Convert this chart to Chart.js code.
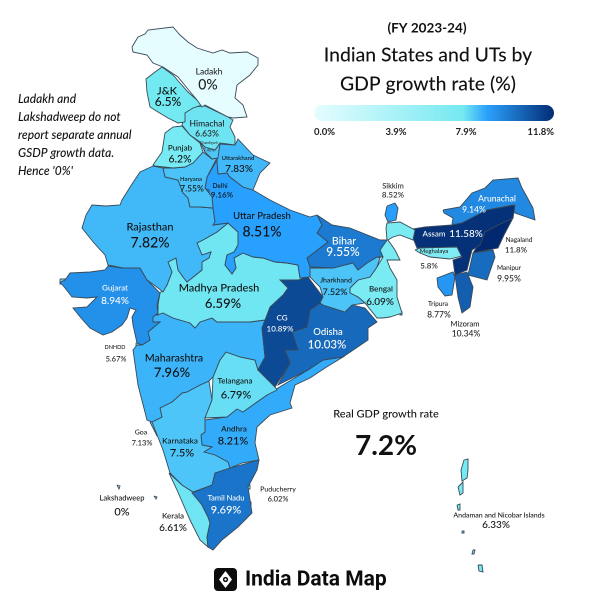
<!DOCTYPE html>
<html>
<head>
<meta charset="utf-8">
<title>Indian States and UTs by GDP growth rate</title>
<script src="https://cdn.jsdelivr.net/npm/chart.js@4"></script>
<style>
  html, body { margin: 0; padding: 0; background: #fff; }
  canvas { display: block; }
</style>
</head>
<body>
<canvas id="chart" width="600" height="600"></canvas>
<script>
// growth rate per state / UT
const regions = ["Ladakh","J&K","Himachal","Punjab","Chandigarh","Haryana","Delhi","Uttarakhand","Uttar Pradesh","Rajasthan","Gujarat","Madhya Pradesh","Bihar","Jharkhand","Bengal","Sikkim","Assam","Meghalaya","Nagaland","Manipur","Mizoram","Tripura","Arunachal","CG","Odisha","Maharashtra","Telangana","Karnataka","Goa","Andhra","Tamil Nadu","Kerala","Puducherry","DNHDD","Lakshadweep","Andaman and Nicobar Islands"];
const growth = [0,6.5,6.63,6.2,7.46,7.55,9.16,7.83,8.51,7.82,8.94,6.59,9.55,7.52,6.09,8.52,11.58,5.8,11.8,9.95,10.34,8.77,9.14,10.89,10.03,7.96,6.79,7.5,7.13,8.21,9.69,6.61,6.02,5.67,0,6.33];
const legendTicks = ["0.0%","3.9%","7.9%","11.8%"];
const nationalGrowth = "7.2%";

// map outlines (x, y in a 600 x 600 frame)
const outlines = {
  "Ladakh": [[[132,47],[138,37],[145,34],[148,30],[173,27],[180,35],[188,42],[197,48],[213,53],[222,50],[230,53],[247,52],[258,58],[258,65],[250,75],[237,85],[235,98],[243,105],[247,117],[233,118],[228,117],[205,105],[202,107],[197,100],[187,88],[178,77],[163,67],[153,63],[147,55],[133,52]]],
  "J&K": [[[162,67],[173,75],[180,83],[188,92],[197,100],[202,105],[193,108],[185,113],[185,122],[178,123],[168,118],[158,112],[150,107],[147,92],[146,79],[155,72]]],
  "Himachal": [[[185,113],[193,107],[202,106],[205,106],[228,117],[233,120],[230,127],[235,137],[235,145],[220,143],[215,150],[205,147],[200,142],[190,135],[182,125]]],
  "Punjab": [[[182,126],[190,135],[200,143],[203,152],[193,163],[185,167],[173,168],[155,166],[153,165],[162,152],[165,133],[173,127]]],
  "Chandigarh": [[[200,142],[205,147],[215,150],[220,143],[218,158],[212,159],[205,152]]],
  "Haryana": [[[163,168],[173,168],[185,167],[193,163],[203,152],[212,159],[217,158],[207,177],[205,188],[212,197],[213,208],[200,207],[190,207],[188,198],[183,193],[178,180],[165,177]]],
  "Delhi": [[[203,188],[209,190],[209,195],[204,195]]],
  "Uttarakhand": [[[217,160],[220,144],[235,145],[238,139],[253,155],[270,163],[260,173],[253,190],[243,187],[230,177],[227,173],[218,174]]],
  "Uttar Pradesh": [[[217,160],[207,177],[205,188],[212,197],[213,208],[215,222],[213,225],[228,223],[238,232],[238,245],[234,252],[227,255],[225,265],[232,274],[236,268],[234,258],[243,253],[253,257],[263,258],[275,262],[287,263],[298,265],[300,278],[310,277],[310,267],[307,258],[320,248],[328,242],[317,233],[322,225],[317,215],[310,217],[290,210],[270,200],[253,190],[243,187],[230,177],[227,173],[218,174]]],
  "Rajasthan": [[[153,166],[163,168],[165,177],[178,180],[183,193],[188,198],[190,207],[200,207],[213,208],[215,222],[213,225],[228,223],[217,232],[203,240],[197,243],[202,255],[211,252],[209,258],[202,262],[202,270],[187,282],[183,277],[178,270],[176,258],[168,262],[172,272],[167,285],[163,292],[158,288],[147,280],[140,268],[123,268],[108,265],[105,255],[94,243],[82,228],[86,215],[92,205],[106,206],[120,205],[122,200],[132,184],[140,172]]],
  "Gujarat": [[[60,282],[65,280],[70,273],[90,272],[105,270],[108,266],[123,268],[140,268],[147,280],[160,293],[157,305],[158,313],[153,317],[153,322],[160,322],[148,332],[150,340],[142,345],[137,343],[133,325],[132,317],[136,310],[130,308],[127,318],[122,325],[112,332],[103,335],[90,328],[81,318],[73,308],[87,307],[97,297],[87,298],[72,297],[65,288]]],
  "Madhya Pradesh": [[[197,243],[203,240],[217,232],[228,223],[238,232],[238,245],[234,252],[227,255],[225,265],[232,274],[236,268],[234,258],[243,253],[253,257],[263,258],[275,262],[287,263],[298,265],[300,278],[308,277],[298,280],[280,280],[288,288],[283,295],[270,307],[265,320],[250,322],[217,322],[212,318],[200,322],[195,328],[190,323],[173,318],[163,313],[157,315],[158,305],[160,293],[167,285],[172,272],[168,262],[176,258],[178,270],[183,277],[187,282],[202,270],[202,262],[209,258],[211,252],[202,255]]],
  "Bihar": [[[317,215],[332,225],[350,228],[380,240],[387,240],[380,250],[383,257],[377,257],[367,263],[358,270],[353,263],[333,268],[310,267],[307,258],[320,248],[328,242],[317,233],[322,225]]],
  "Jharkhand": [[[310,268],[333,268],[353,263],[358,270],[367,263],[377,257],[380,258],[377,267],[370,277],[358,280],[350,288],[350,293],[358,297],[365,303],[352,305],[345,312],[323,305],[320,303],[323,297],[320,287],[310,277]]],
  "Bengal": [[[387,240],[386,228],[387,223],[400,222],[415,230],[413,240],[400,235],[393,237],[388,240],[395,250],[400,260],[387,260],[390,268],[397,280],[397,297],[402,313],[390,317],[383,318],[377,318],[365,303],[358,297],[350,293],[350,288],[358,280],[370,277],[377,267],[383,257],[380,250]],[[400,312],[402,312],[402,315],[400,315]]],
  "Sikkim": [[[387,206],[395,203],[398,208],[396,220],[388,222],[385,215]]],
  "Assam": [[[413,229],[425,227],[452,225],[462,223],[487,210],[515,205],[513,218],[498,225],[485,232],[480,245],[472,250],[467,270],[455,275],[453,260],[462,257],[457,247],[417,248],[413,238]]],
  "Meghalaya": [[[415,250],[420,248],[457,246],[462,256],[450,259],[430,257],[420,253]]],
  "Nagaland": [[[485,232],[498,225],[513,218],[504,235],[498,248],[473,253],[478,245]]],
  "Manipur": [[[493,250],[495,257],[487,280],[468,275],[473,253]]],
  "Mizoram": [[[455,275],[467,272],[473,287],[470,307],[462,313],[458,297]]],
  "Tripura": [[[437,278],[453,272],[455,277],[452,295],[445,296],[438,287]]],
  "Arunachal": [[[443,210],[460,207],[472,193],[485,188],[493,180],[518,178],[522,188],[527,197],[533,208],[535,220],[515,213],[513,205],[487,210],[462,223],[452,225],[453,218],[444,213]]],
  "CG": [[[308,277],[323,297],[320,303],[310,310],[307,327],[292,332],[298,350],[285,350],[290,363],[275,387],[258,370],[265,357],[262,328],[270,307],[283,295],[288,288],[280,280],[298,280]]],
  "Odisha": [[[320,303],[323,305],[345,312],[352,305],[365,308],[377,322],[368,328],[368,340],[343,357],[323,360],[308,370],[278,385],[290,363],[285,350],[298,350],[292,332],[307,327],[310,310]]],
  "Maharashtra": [[[137,345],[142,345],[150,340],[148,332],[160,322],[153,322],[153,317],[158,313],[163,313],[173,318],[190,323],[195,328],[200,322],[212,318],[217,322],[250,322],[265,320],[262,328],[265,357],[258,370],[255,360],[240,357],[226,352],[220,360],[213,377],[209,381],[200,385],[187,392],[182,393],[172,402],[160,408],[162,417],[152,422],[147,420],[138,385],[133,350]]],
  "Telangana": [[[226,352],[240,357],[255,360],[258,370],[275,387],[277,390],[267,395],[257,402],[243,412],[237,409],[227,417],[205,418],[212,400],[213,377],[220,360]]],
  "Karnataka": [[[152,422],[162,417],[160,408],[172,402],[182,393],[187,392],[200,385],[209,381],[212,400],[205,418],[205,432],[201,435],[202,445],[212,447],[204,452],[215,455],[228,462],[230,468],[215,473],[212,485],[193,492],[182,485],[170,473],[163,450]]],
  "Goa": [[[150,422],[160,420],[160,435],[157,436]]],
  "Andhra": [[[205,420],[227,417],[237,408],[243,412],[257,402],[267,395],[278,388],[308,370],[323,360],[343,357],[325,368],[310,378],[295,385],[290,403],[292,408],[270,415],[257,427],[255,443],[259,460],[242,463],[230,468],[228,462],[215,455],[203,452],[212,447],[202,445],[201,435],[205,432]]],
  "Tamil Nadu": [[[215,473],[230,468],[259,460],[257,470],[248,487],[252,513],[238,527],[222,540],[213,550],[208,547],[207,537],[210,523],[208,517],[202,505],[192,493],[212,485]]],
  "Kerala": [[[169,473],[182,485],[193,492],[202,505],[208,517],[210,523],[207,537],[208,547],[200,540],[190,520],[177,490]]],
  "Puducherry": [[[246,485],[250,485],[250,489],[246,489]],[[249,502],[251,502],[251,505],[249,505]]],
  "DNHDD": [[[136,343],[140,343],[140,347],[136,347]],[[60,279],[65,279],[65,284],[60,284]]],
  "Lakshadweep": [[[117,485],[120,486],[119,489]],[[154,496],[157,497],[156,499]]],
  "Andaman and Nicobar Islands": [[[464,460],[468,459],[468,470],[467,478],[462,481],[461,470]],[[458,487],[463,482],[463,493],[460,495]],[[457,505],[460,504],[460,510],[458,510]],[[462,531],[464,531],[464,533],[462,533]],[[473,550],[475,550],[474,554],[472,554]],[[478,565],[482,565],[483,572],[479,571]]]
};

// where each region's name and value sit: x, y, size of the name, then x, y, size of the value, text colour
const layout = {
  "Ladakh": [209,72,8.5,208,85,14,"#222"], "J&K": [167,91,11,168,102,12,"#111"], "Himachal": [207,124,8.5,207,134,8.5,"#222"],
  "Chandigarh": [209,143,3.5,209,150,4,"#333"], "Punjab": [180,148,8,180,159,10.5,"#111"], "Uttarakhand": [238,158,6,239,169,10,"#111"],
  "Haryana": [191,179,6,192,189,8.5,"#111"], "Delhi": [220,186,6.5,222,195,8,"#111"], "Uttar Pradesh": [262,216,9.5,262,232,14,"#111"],
  "Rajasthan": [150,227,11,150,243,14,"#111"], "Gujarat": [115,288,8,115,301,10,"#fff"], "Madhya Pradesh": [219,288,11,223,304,13,"#111"],
  "Bihar": [344,241,10.5,343,252,12,"#fff"], "Jharkhand": [336,280,7,335,292,9,"#111"], "Bengal": [381,289,8,380,302,10,"#111"],
  "CG": [282,318,8,280,329,8,"#fff"], "Odisha": [328,332,9.5,327,345,11.5,"#fff"], "Maharashtra": [174,358,10.5,172,373,13,"#111"],
  "Telangana": [235,381,8,236,395,11,"#111"], "Karnataka": [180,441,8,182,453,11,"#111"], "Andhra": [234,429,8,233,441,11,"#111"],
  "Tamil Nadu": [226,498,7.5,226,510,11,"#fff"], "Goa": [141,432,7,142,443,7.5,"#222"], "DNHDD": [115,347,5.5,116,359,7.5,"#222"],
  "Lakshadweep": [122,498,7.5,122,512,11,"#111"], "Kerala": [173,516,8,173,528,10,"#111"], "Puducherry": [278,489,7,278,499,7.5,"#222"],
  "Sikkim": [393,186,7.5,393,195,8,"#222"], "Arunachal": [497,199,8.5,474,210,8.5,"#fff"], "Assam": [434,234,8,466,234,10,"#fff"],
  "Nagaland": [519,240,6.5,516,250,8,"#222"], "Meghalaya": [434,251,6,429,266,8,"#222"], "Manipur": [509,268,6.5,509,279,8.5,"#222"],
  "Tripura": [438,304,6.5,439,315,8.5,"#222"], "Mizoram": [465,324,7.5,466,334,8.5,"#222"], "Andaman and Nicobar Islands": [499,515,7,496,525,10,"#111"]
};

const noteLines = ["Ladakh and","Lakshadweep do not","report separate annual","GSDP growth data.","Hence '0%'"];
const FONT = 'Lato, sans-serif';

// same ramp as the colour bar, by value
const ramp = [[0,[230,253,255]],[6.5,[115,233,242]],[8.5,[40,160,253]],[11.8,[2,41,111]]];
function colorFor(v) {
  for (let i = 1; i < ramp.length; i++) {
    if (v <= ramp[i][0]) {
      const t = (v - ramp[i-1][0]) / (ramp[i][0] - ramp[i-1][0]);
      const a = ramp[i-1][1], b = ramp[i][1];
      return "rgb(" + a.map((c, k) => Math.round(c + (b[k] - c) * t)).join(",") + ")";
    }
  }
  return "rgb(2,41,111)";
}

// one line dataset per closed outline piece
const datasets = [];
regions.forEach((name, i) => {
  outlines[name].forEach((piece) => {
    const pts = piece.concat([piece[0]]).map((p) => ({ x: p[0], y: p[1] }));
    datasets.push({
      label: name,
      data: pts,
      showLine: true,
      fill: "shape",
      tension: 0,
      pointRadius: 0,
      borderWidth: 0.9,
      borderColor: "#3a4a58",
      backgroundColor: colorFor(growth[i])
    });
  });
});

function put(ctx, text, x, y, font, color, align) {
  ctx.font = font;
  ctx.fillStyle = color;
  ctx.textAlign = align || "center";
  ctx.textBaseline = "middle";
  ctx.fillText(text, x, y);
}

const textLayer = {
  id: "textLayer",
  afterDatasetsDraw(chart) {
    const ctx = chart.ctx;
    const px = (v) => chart.scales.x.getPixelForValue(v);
    const py = (v) => chart.scales.y.getPixelForValue(v);

    regions.forEach((name, i) => {
      const l = layout[name];
      put(ctx, name, px(l[0]), py(l[1]), "500 " + l[2] + "px " + FONT, l[6]);
      put(ctx, growth[i] + "%", px(l[3]), py(l[4]), "500 " + l[5] + "px " + FONT, l[6]);
    });

    noteLines.forEach((line, i) => {
      put(ctx, line, px(18), py(99 + i * 18), "italic 500 12px " + FONT, "#111", "left");
    });

    put(ctx, "(FY 2023-24)", px(427), py(28), "700 13.5px " + FONT, "#111");
    put(ctx, "Indian States and UTs by", px(428), py(55), "500 19.4px " + FONT, "#111");
    put(ctx, "GDP growth rate (%)", px(428), py(84), "500 19.4px " + FONT, "#111");

    // colour bar
    const g = ctx.createLinearGradient(px(314), 0, px(554), 0);
    g.addColorStop(0, "#e6fdff");
    g.addColorStop(0.62, "#76e9f1");
    g.addColorStop(0.72, "#2ba2fd");
    g.addColorStop(1, "#032c75");
    ctx.fillStyle = g;
    ctx.beginPath();
    ctx.roundRect(px(314), py(105), 240, 16, 8);
    ctx.fill();
    const tickX = [314, 396, 466, 554];
    const tickAlign = ["left", "center", "center", "right"];
    legendTicks.forEach((t, i) => {
      put(ctx, t, px(tickX[i]), py(132), "700 9.5px " + FONT, "#222", tickAlign[i]);
    });

    put(ctx, "Real GDP growth rate", px(386), py(414), "500 11px " + FONT, "#111");
    put(ctx, nationalGrowth, px(386), py(446), "700 28px " + FONT, "#111");

    // logo
    ctx.fillStyle = "#0c0c0c";
    ctx.beginPath();
    ctx.roundRect(px(214), py(568), 23, 23, 4);
    ctx.fill();
    ctx.fillStyle = "#fff";
    ctx.beginPath();
    ctx.moveTo(px(225.5), py(571));
    ctx.lineTo(px(232), py(579.5));
    ctx.lineTo(px(225.5), py(588));
    ctx.lineTo(px(219), py(579.5));
    ctx.closePath();
    ctx.fill();
    ctx.fillStyle = "#0c0c0c";
    ctx.beginPath();
    ctx.arc(px(225.5), py(579.5), 2.6, 0, Math.PI * 2);
    ctx.fill();
    ctx.fillStyle = "#fff";
    ctx.beginPath();
    ctx.arc(px(225.5), py(579.5), 1.1, 0, Math.PI * 2);
    ctx.fill();
    put(ctx, "India Data Map", px(245), py(580), "700 21px Roboto, sans-serif", "#0c0c0c", "left");
  }
};

new Chart(document.getElementById("chart"), {
  type: "scatter",
  data: { datasets: datasets },
  options: {
    responsive: false,
    animation: false,
    devicePixelRatio: 2,
    layout: { padding: 0 },
    plugins: { legend: { display: false }, tooltip: { enabled: false }, title: { display: false } },
    scales: {
      x: { type: "linear", min: 0, max: 600, display: false },
      y: { type: "linear", min: 0, max: 600, reverse: true, display: false }
    }
  },
  plugins: [textLayer]
});
</script>
</body>
</html>
